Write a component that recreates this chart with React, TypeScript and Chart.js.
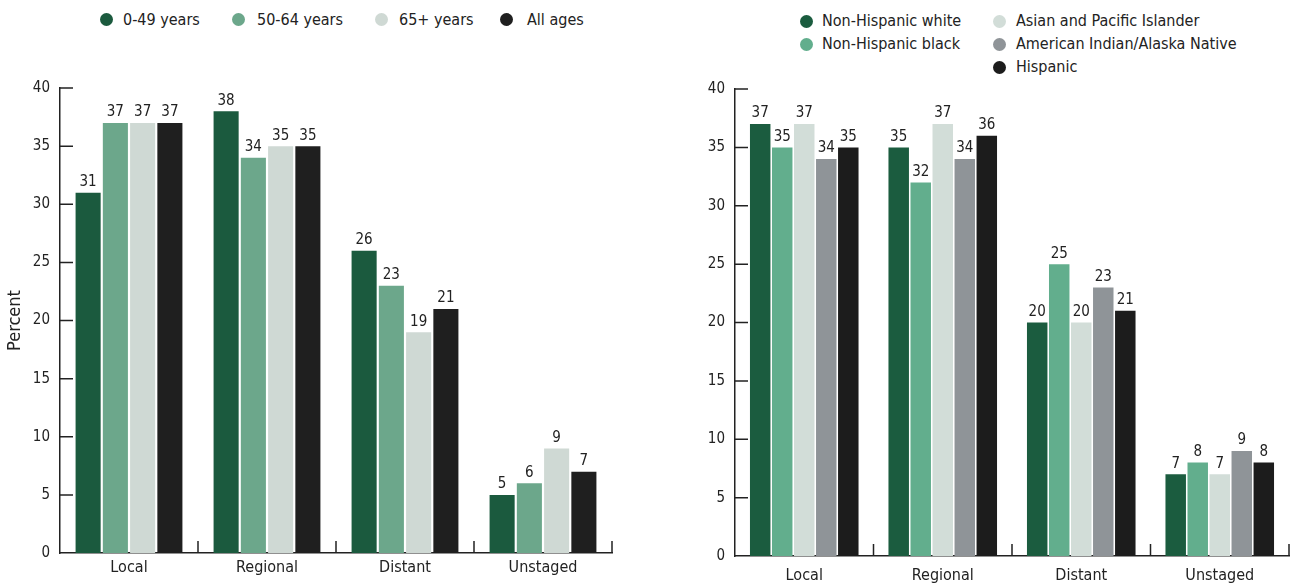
import React, { useEffect, useRef } from "react";
import { Chart, registerables } from "chart.js";

Chart.register(...registerables);

// ---- data ----
const stages = ["Local", "Regional", "Distant", "Unstaged"];
const yTicks = [0, 5, 10, 15, 20, 25, 30, 35, 40];

const ageLabels = ["0-49 years", "50-64 years", "65+ years", "All ages"];
const age0to49 = [31, 38, 26, 5];
const age50to64 = [37, 34, 23, 6];
const age65plus = [37, 35, 19, 9];
const ageAll = [37, 35, 21, 7];
const ageColors = ["#1b5a3e", "#6ca78b", "#cfd9d4", "#1f1f1f"];

const raceLabels = [
  "Non-Hispanic white",
  "Non-Hispanic black",
  "Asian and Pacific Islander",
  "American Indian/Alaska Native",
  "Hispanic",
];
const raceWhite = [37, 35, 20, 7];
const raceBlack = [35, 32, 25, 8];
const raceAsian = [37, 37, 20, 7];
const raceNative = [34, 34, 23, 9];
const raceHispanic = [35, 36, 21, 8];
const raceColors = ["#1b5c3f", "#62ae8d", "#d2ddd8", "#8f9498", "#1c1c1c"];

const FONT =
  '"Liberation Sans Narrow", "DejaVu Sans Condensed", "Roboto Condensed", Roboto, "Liberation Sans", sans-serif';
const INK = "#222";

// Short inward ticks on both axes plus value labels above every bar.
const axisTicksPlugin = {
  id: "axisTicks",
  beforeDatasetsDraw(chart: any) {
    const { ctx, chartArea } = chart;
    const y = chart.scales.y;
    const x = chart.scales.x;
    ctx.save();
    ctx.strokeStyle = INK;
    ctx.lineWidth = 1.5;
    ctx.beginPath();
    yTicks.forEach((v) => {
      if (v === 0) return;
      const py = y.getPixelForValue(v);
      ctx.moveTo(chartArea.left, py);
      ctx.lineTo(chartArea.left + 13, py);
    });
    const n = chart.data.labels.length;
    const step = (x.right - x.left) / n;
    for (let i = 1; i <= n; i++) {
      const px = x.getPixelForValue(i - 1) + step / 2;
      ctx.moveTo(px, chartArea.bottom);
      ctx.lineTo(px, chartArea.bottom - 12);
    }
    ctx.stroke();
    ctx.restore();
  },
  afterDatasetsDraw(chart: any) {
    const { ctx } = chart;
    ctx.save();
    ctx.fillStyle = INK;
    ctx.font = `15px ${FONT}`;
    ctx.textAlign = "center";
    ctx.textBaseline = "bottom";
    chart.data.datasets.forEach((ds: any, di: number) => {
      const meta = chart.getDatasetMeta(di);
      meta.data.forEach((bar: any, i: number) => {
        ctx.fillText(String(ds.data[i]), bar.x, bar.y - 3);
      });
    });
    ctx.restore();
  },
};

type BarOpts = {
  series: number[][];
  labels: string[];
  colors: string[];
  yAxisWidth: number;
  xAxisHeight: number;
  padTop: number;
  padRight: number;
  xLabelPad: number;
  showTitle: boolean;
  categoryPercentage: number;
  barPercentage: number;
};

function BarPanel(props: BarOpts & { style: React.CSSProperties }) {
  const ref = useRef<HTMLCanvasElement>(null);
  useEffect(() => {
    if (!ref.current) return;
    const chart = new Chart(ref.current, {
      type: "bar",
      data: {
        labels: stages,
        datasets: props.series.map((d, i) => ({
          label: props.labels[i],
          data: d,
          backgroundColor: props.colors[i],
          borderWidth: 0,
          categoryPercentage: props.categoryPercentage,
          barPercentage: props.barPercentage,
        })),
      },
      options: {
        animation: false,
        responsive: false,
        maintainAspectRatio: false,
        layout: { padding: { top: props.padTop, right: props.padRight, left: 0, bottom: 0 } },
        plugins: { legend: { display: false }, tooltip: { enabled: false } },
        scales: {
          x: {
            grid: { display: false, drawTicks: false },
            border: { display: true, color: INK, width: 1.5 },
            ticks: { color: INK, padding: props.xLabelPad, font: { family: FONT, size: 16 } },
            afterFit: (s: any) => {
              s.height = props.xAxisHeight;
            },
          },
          y: {
            min: 0,
            max: 40,
            grid: { display: false, drawTicks: false },
            border: { display: true, color: INK, width: 1.5 },
            ticks: { stepSize: 5, color: INK, padding: 10, font: { family: FONT, size: 15 } },
            title: {
              display: props.showTitle,
              text: "Percent",
              color: INK,
              font: { family: FONT, size: 18 },
              padding: { top: 5, bottom: 0 },
            },
            afterFit: (s: any) => {
              s.width = props.yAxisWidth;
            },
          },
        },
      },
      plugins: [axisTicksPlugin],
    });
    return () => chart.destroy();
  }, []);
  const { width, height } = props.style as any;
  return <canvas ref={ref} width={width} height={height} style={props.style} />;
}

function LegendItem({ label, color, cx, tx, cy }: { label: string; color: string; cx: number; tx: number; cy: number }) {
  return (
    <>
      <span
        style={{
          position: "absolute",
          left: cx - 6.5,
          top: cy - 6.5,
          width: 13,
          height: 13,
          borderRadius: "50%",
          background: color,
        }}
      />
      <span
        style={{
          position: "absolute",
          left: tx,
          top: cy - 11,
          lineHeight: "22px",
          fontSize: 16,
          fontFamily: FONT,
          color: INK,
          whiteSpace: "nowrap",
        }}
      >
        {label}
      </span>
    </>
  );
}

const ageLegendX = [
  [106, 123],
  [238, 257],
  [381, 399],
  [506, 527],
];
const raceLegendPos = [
  [806, 822, 21],
  [806, 822, 44],
  [999, 1016, 21],
  [999, 1016, 44],
  [999, 1016, 67],
];

export default function App() {
  return (
    <div
      style={{
        position: "fixed",
        left: 0,
        top: 0,
        width: 1291,
        height: 586,
        background: "#fff",
        overflow: "hidden",
      }}
    >
      {ageLabels.map((l, i) => (
        <LegendItem key={l} label={l} color={ageColors[i]} cx={ageLegendX[i][0]} tx={ageLegendX[i][1]} cy={19.5} />
      ))}
      {raceLabels.map((l, i) => (
        <LegendItem
          key={l}
          label={l}
          color={raceColors[i]}
          cx={raceLegendPos[i][0]}
          tx={raceLegendPos[i][1]}
          cy={raceLegendPos[i][2]}
        />
      ))}
      <BarPanel
        style={{ position: "absolute", left: 0, top: 0, width: 640, height: 586 }}
        series={[age0to49, age50to64, age65plus, ageAll]}
        labels={ageLabels}
        colors={ageColors}
        yAxisWidth={60}
        xAxisHeight={33}
        padTop={88}
        padRight={28}
        xLabelPad={5}
        showTitle={true}
        categoryPercentage={0.79}
        barPercentage={0.92}
      />
      <BarPanel
        style={{ position: "absolute", left: 660, top: 0, width: 631, height: 586 }}
        series={[raceWhite, raceBlack, raceAsian, raceNative, raceHispanic]}
        labels={raceLabels}
        colors={raceColors}
        yAxisWidth={75}
        xAxisHeight={30}
        padTop={89}
        padRight={2}
        xLabelPad={10}
        showTitle={false}
        categoryPercentage={0.795}
        barPercentage={0.93}
      />
    </div>
  );
}
